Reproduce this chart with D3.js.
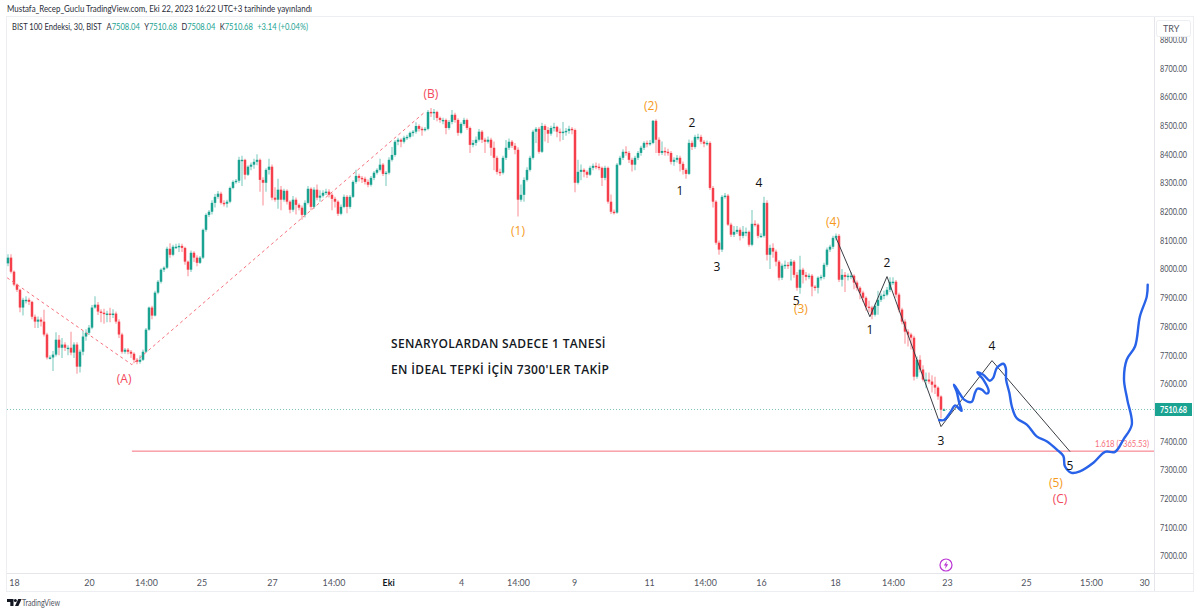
<!DOCTYPE html>
<html>
<head>
<meta charset="utf-8">
<script src="https://cdn.jsdelivr.net/npm/d3@7"></script>
<style>
  html, body { margin: 0; padding: 0; background: #fff; }
  svg { display: block; }
  .tick text { font-family: Lato, sans-serif; font-size: 8.9px; fill: #50535e; }
  .wave { font-family: "Open Sans", sans-serif; font-size: 12px; text-anchor: middle; dominant-baseline: central; }
  .note { font-family: "Open Sans", sans-serif; font-size: 12px; font-weight: 600; fill: #131722; letter-spacing: 0.35px; }
</style>
</head>
<body>
<svg width="1200" height="614"></svg>
<script>
// 30 minute bars
const opens = [
8020,8040,7991,7946,7928,7866,7893,7893,7886,7834,
7817,7824,7817,7772,7692,7692,7702,7754,7726,7737,
7726,7726,7709,7737,7660,7712,7765,7778,7796,7866,
7876,7852,7848,7845,7845,7841,7845,7817,7772,7712,
7719,7712,7705,7684,7677,7684,7712,7789,7866,7838,
7918,7956,7998,8005,8071,8050,8078,8078,8081,8074,
8026,7998,8057,8040,8022,8040,8137,8189,8200,8231,
8252,8263,8231,8228,8235,8283,8304,8308,8381,8381,
8329,8357,8364,8374,8381,8311,8301,8346,8357,8249,
8242,8277,8242,8273,8235,8207,8242,8224,8214,8189,
8231,8280,8217,8277,8249,8256,8266,8270,8259,8245,
8235,8193,8217,8252,8217,8252,8304,8325,8318,8315,
8304,8294,8318,8336,8346,8364,8332,8336,8381,8398,
8444,8451,8444,8458,8461,8475,8479,8499,8489,8485,
8489,8548,8545,8548,8527,8520,8520,8492,8513,8538,
8520,8475,8506,8520,8492,8433,8440,8451,8479,8451,
8444,8451,8423,8388,8339,8336,8388,8423,8444,8430,
8416,8242,8259,8311,8346,8388,8479,8489,8409,8499,
8485,8472,8492,8496,8479,8475,8479,8482,8489,8485,
8301,8339,8346,8339,8329,8353,8360,8357,8353,8318,
8353,8235,8200,8197,8364,8388,8409,8405,8381,8364,
8388,8405,8423,8440,8437,8440,8517,8451,8405,8412,
8409,8405,8374,8381,8388,8367,8346,8332,8440,8426,
8461,8461,8444,8437,8440,8283,8235,8092,8068,8252,
8256,8155,8120,8130,8137,8116,8130,8130,8085,8158,
8155,8116,8116,8231,8050,8074,8061,8026,7970,8012,
8015,8012,8026,7980,7935,7998,7980,7973,7977,7939,
7935,7970,7973,8015,8068,8078,8109,8116,7963,7980,
7973,7977,7977,7953,7935,7918,7900,7869,7866,7841,
7872,7893,7907,7911,7928,7956,7956,7911,7859,7817,
7782,7772,7761,7625,7684,7650,7615,7615,7608,7597,
7587,7556,7508.04];
const closes = [
8040,7991,7946,7928,7866,7893,7893,7886,7834,7817,
7824,7817,7772,7692,7692,7702,7754,7726,7737,7726,
7726,7709,7737,7660,7712,7765,7778,7796,7866,7876,
7852,7848,7845,7845,7841,7845,7817,7772,7712,7719,
7712,7705,7684,7677,7684,7712,7789,7866,7838,7918,
7956,7998,8005,8071,8050,8078,8078,8081,8074,8026,
7998,8057,8040,8022,8040,8137,8189,8200,8231,8252,
8263,8231,8228,8235,8283,8304,8308,8381,8381,8329,
8357,8364,8374,8381,8311,8301,8346,8357,8249,8242,
8277,8242,8273,8235,8207,8242,8224,8214,8189,8231,
8280,8217,8277,8249,8256,8266,8270,8259,8245,8235,
8193,8217,8252,8217,8252,8304,8325,8318,8315,8304,
8294,8318,8336,8346,8364,8332,8336,8381,8398,8444,
8451,8444,8458,8461,8475,8479,8499,8489,8485,8489,
8548,8545,8548,8527,8520,8520,8492,8513,8538,8520,
8475,8506,8520,8492,8433,8440,8451,8479,8451,8444,
8451,8423,8388,8339,8336,8388,8423,8444,8430,8416,
8242,8259,8311,8346,8388,8479,8489,8409,8499,8485,
8472,8492,8496,8479,8475,8479,8482,8489,8485,8301,
8339,8346,8339,8329,8353,8360,8357,8353,8318,8353,
8235,8200,8197,8364,8388,8409,8405,8381,8364,8388,
8405,8423,8440,8437,8440,8517,8451,8405,8412,8409,
8405,8374,8381,8388,8367,8346,8332,8440,8426,8461,
8461,8444,8437,8440,8283,8235,8092,8068,8252,8256,
8155,8120,8130,8137,8116,8130,8130,8085,8158,8155,
8116,8116,8231,8050,8074,8061,8026,7970,8012,8015,
8012,8026,7980,7935,7998,7980,7973,7977,7939,7935,
7970,7973,8015,8068,8078,8109,8116,7963,7980,7973,
7977,7977,7953,7935,7918,7900,7869,7866,7841,7872,
7893,7907,7911,7928,7956,7956,7911,7859,7817,7782,
7772,7761,7625,7684,7650,7615,7615,7608,7597,7587,
7556,7510,7510.68];
const highs = [
8052,8052,7995,7950,7932,7900,7905,7900,7890,7842,
7835,7832,7858,7778,7700,7715,7780,7770,7760,7745,
7735,7782,7745,7745,7720,7785,7790,7805,7875,7905,
7885,7860,7862,7855,7865,7860,7852,7825,7778,7725,
7725,7718,7710,7690,7700,7720,7795,7870,7872,7925,
7962,8003,8010,8078,8090,8085,8088,8090,8088,8078,
8030,8065,8062,8048,8046,8142,8195,8206,8240,8262,
8272,8270,8240,8242,8288,8310,8314,8392,8395,8385,
8362,8372,8385,8400,8386,8320,8352,8385,8365,8285,
8315,8290,8280,8278,8240,8255,8250,8230,8222,8240,
8290,8285,8285,8295,8275,8275,8280,8278,8265,8252,
8240,8225,8260,8258,8258,8310,8346,8332,8325,8322,
8312,8325,8342,8352,8385,8370,8342,8390,8426,8450,
8458,8456,8465,8468,8480,8485,8512,8505,8496,8495,
8555,8562,8558,8552,8532,8528,8525,8520,8555,8545,
8526,8512,8528,8525,8497,8450,8462,8488,8485,8458,
8462,8458,8445,8395,8350,8395,8450,8455,8450,8440,
8425,8295,8320,8355,8395,8486,8495,8495,8510,8505,
8495,8500,8510,8500,8490,8513,8492,8500,8495,8490,
8381,8365,8352,8345,8360,8368,8372,8368,8358,8360,
8358,8260,8208,8370,8395,8418,8428,8412,8388,8395,
8412,8430,8446,8448,8450,8520,8522,8460,8445,8425,
8420,8412,8390,8398,8395,8375,8352,8452,8448,8468,
8472,8468,8450,8448,8446,8290,8240,8100,8258,8265,
8262,8162,8150,8150,8145,8150,8145,8135,8206,8170,
8160,8125,8252,8240,8085,8090,8068,8032,8020,8030,
8025,8035,8032,7990,8047,8005,7990,7985,7983,7945,
7975,7980,8022,8075,8085,8116,8124,8122,8000,7990,
7985,7990,7982,7960,7940,7925,7905,7890,7872,7880,
7925,7915,7925,7938,7972,7972,7962,7918,7865,7825,
7790,7778,7768,7695,7700,7665,7640,7640,7630,7625,
7592,7560,7514];
const lows = [
8010,7985,7940,7920,7850,7838,7880,7875,7825,7795,
7795,7800,7765,7685,7685,7645,7695,7700,7690,7715,
7700,7700,7690,7635,7640,7700,7750,7770,7790,7862,
7840,7815,7810,7815,7815,7830,7810,7760,7705,7705,
7703,7690,7672,7668,7670,7680,7708,7785,7825,7835,
7912,7950,7990,8000,8040,8045,8070,8060,8060,8015,
7975,7990,8025,8010,8018,8035,8130,8182,8190,8215,
8245,8225,8218,8215,8230,8278,8298,8300,8290,8312,
8325,8345,8350,8362,8270,8222,8270,8330,8240,8235,
8210,8205,8235,8225,8195,8200,8190,8205,8172,8180,
8225,8205,8210,8240,8235,8250,8258,8250,8205,8215,
8185,8188,8212,8195,8210,8248,8298,8305,8300,8295,
8285,8288,8310,8330,8340,8325,8290,8330,8375,8392,
8432,8425,8438,8450,8455,8462,8472,8480,8465,8480,
8484,8530,8520,8515,8510,8505,8470,8486,8505,8510,
8465,8470,8500,8485,8405,8425,8430,8445,8440,8405,
8438,8395,8345,8330,8325,8330,8380,8415,8422,8400,
8183,8235,8235,8305,8340,8382,8440,8402,8405,8445,
8440,8465,8480,8460,8445,8450,8465,8472,8470,8268,
8295,8310,8320,8318,8325,8345,8348,8345,8290,8310,
8228,8192,8190,8193,8360,8380,8395,8370,8340,8345,
8380,8395,8415,8425,8430,8435,8405,8395,8398,8395,
8395,8365,8360,8372,8340,8330,8315,8328,8415,8420,
8450,8435,8425,8430,8276,8215,8085,8050,8060,8245,
8150,8112,8112,8122,8100,8108,8115,8078,8080,8148,
8108,8110,8110,8030,8000,8040,8010,7960,7962,8000,
8000,7960,7970,7925,7914,7950,7960,7965,7905,7925,
7915,7960,7965,8008,8060,8070,8100,7955,7939,7920,
7960,7965,7930,7925,7895,7885,7855,7850,7825,7835,
7841,7885,7895,7905,7920,7945,7900,7850,7808,7740,
7730,7720,7612,7618,7640,7608,7585,7600,7570,7565,
7545,7480,7505];

// axis labels (7500 sits under the price badge, so it is left out)
const priceTicks = [7000,7100,7200,7300,7400,7600,7700,7800,7900,8000,8100,8200,8300,8400,8500,8600,8700,8800];
const dateTicks = [2,27,46,64.5,88,108.5,126.7,151,170,188.7,213.7,232.3,251,275.7,295,313,339.3,361,378.7];
const dateLabels = ["18","20","14:00","25","27","14:00","Eki","4","14:00","9","11","14:00","16","18","14:00","23","25","15:00","30"];

// hand drawn stuff, all in bar / price units
const waveTexts = ["(A)","(B)","(1)","(2)","1","2","3","4","5","(3)","(4)","1","2","3","4","5","(5)","(C)"];
const waveBars = [38.7,141,170,214.3,224,228,236.3,250.3,262.7,264.3,275,287.3,293,311,328,354,349.3,350.7];
const wavePrices = [7618,8611,8134,8569,8273,8510,8008,8301,7890,7862,8165,7789,8022,7402,7733,7315,7256,7200];
const waveKinds = ["c","c","o","o","k","k","k","k","k","o","o","k","k","k","k","k","o","c"];
const dashBars = [-0.3,41.3,139];
const dashPrices = [7970,7667,8548];
const impulseBars = [276,287.3,293,311,328,354];
const impulsePrices = [8109,7834,7974,7451,7681,7364];
const blueBars = [310.4,312,314,315.7,316.8,317.9,317.1,316.2,315.3,316.8,318.7,321.2,322.3,323.1,324.6,326.2,326.9,325.1,323.1,325.1,327.3,328.4,329.6,331.8,332.6,332.7,333.8,334.6,336.2,339.6,342.9,346.2,349.6,351.8,352.3,354.5,357.3,361.8,365.7,369,371.8,374.6,373.1,372,372.9,375.7,377.3,379.6,379.9];
const bluePrices = [7474,7474,7499,7525,7516,7506,7533,7574,7597,7574,7545,7537,7568,7583,7580,7566,7574,7615,7640,7632,7611,7621,7655,7670,7655,7615,7568,7522,7481,7458,7417,7400,7371,7348,7313,7290,7295,7325,7363,7363,7406,7458,7545,7615,7684,7731,7835,7905,7946];
const fibLevel = 7365.53;
const fibStartBar = 41.3;
const lastPrice = 7510.68;

const upColor = "#1ba392";
const downColor = "#f5404c";
const waveColors = { c: "#f2495c", o: "#f59a1d", k: "#111111" };

window.onload = () => {
  const svg = d3.select("svg");
  const left = 7, right = 1154, top = 17, bottom = 573, outerRight = 1193, outerBottom = 591;

  const x = d3.scaleLinear().domain([0, 382]).range([8, 1154]);
  const y = d3.scaleLinear().domain([7000, 8700]).range([556, 68.3]);

  // frame
  svg.append("rect").attr("x", left - 0.5).attr("y", top - 0.5)
    .attr("width", outerRight - left + 1).attr("height", outerBottom - top + 1)
    .attr("fill", "#fff").attr("stroke", "#eceef2");
  svg.append("line").attr("x1", right + 0.5).attr("x2", right + 0.5).attr("y1", top).attr("y2", outerBottom).attr("stroke", "#e4e6eb");
  svg.append("line").attr("x1", left).attr("x2", outerRight).attr("y1", bottom + 0.5).attr("y2", bottom + 0.5).attr("stroke", "#e4e6eb");

  // axes
  const xAxis = d3.axisBottom(x).tickValues(dateTicks).tickSize(0).tickPadding(0)
    .tickFormat((d, i) => dateLabels[i]);
  const xAxisG = svg.append("g").attr("transform", `translate(0,${bottom + 7})`).call(xAxis);
  xAxisG.select(".domain").remove();
  xAxisG.selectAll("text").attr("dy", "0.71em")
    .style("font-weight", d => d === 126.7 ? 700 : 400)
    .style("fill", d => d === 126.7 ? "#131722" : "#50535e");

  const yAxis = d3.axisRight(y).tickValues(priceTicks).tickSize(0).tickPadding(0)
    .tickFormat(d3.format(".2f"));
  const yAxisG = svg.append("g").attr("transform", `translate(${right + 6},0)`).call(yAxis);
  yAxisG.select(".domain").remove();
  yAxisG.selectAll("text").attr("dy", "0.32em")
    .attr("textLength", 27).attr("lengthAdjust", "spacingAndGlyphs");

  // last price dotted line
  svg.append("line").attr("x1", left).attr("x2", right)
    .attr("y1", y(lastPrice)).attr("y2", y(lastPrice))
    .attr("stroke", "#7fc4bb").attr("stroke-width", 1).attr("stroke-dasharray", "1 2");

  // wicks and bodies
  const bars = closes.map((c, i) => ({ i, o: opens[i], h: highs[i], l: lows[i], c }));
  const col = d => d.c >= d.o ? upColor : downColor;

  svg.append("g").selectAll("line").data(bars).enter().append("line")
    .attr("x1", d => x(d.i)).attr("x2", d => x(d.i))
    .attr("y1", d => y(d.h)).attr("y2", d => y(d.l))
    .attr("stroke", col).attr("stroke-opacity", 0.55).attr("stroke-width", 1.1);

  svg.append("g").selectAll("rect").data(bars).enter().append("rect")
    .attr("x", d => x(d.i) - 1.25)
    .attr("width", 2.5)
    .attr("y", d => Math.min(y(d.o), y(d.c)))
    .attr("height", d => Math.max(1.4, Math.abs(y(d.o) - y(d.c))))
    .attr("fill", col);

  // fib level
  svg.append("line").attr("x1", x(fibStartBar)).attr("x2", right)
    .attr("y1", y(fibLevel)).attr("y2", y(fibLevel))
    .attr("stroke", "#f66f7c").attr("stroke-width", 1);
  svg.append("text").attr("x", 1095).attr("y", y(fibLevel) - 8)
    .attr("dominant-baseline", "central")
    .attr("textLength", 54).attr("lengthAdjust", "spacingAndGlyphs")
    .style("font-family", "Lato, sans-serif").style("font-size", "9px").attr("fill", "#f66f7c")
    .text("1.618 (" + fibLevel.toFixed(2) + ")");

  // drawn lines
  const pathLine = d3.line().x(d => x(d[0])).y(d => y(d[1]));
  svg.append("path").attr("d", pathLine(d3.zip(dashBars, dashPrices)))
    .attr("fill", "none").attr("stroke", "#f5707c").attr("stroke-width", 1).attr("stroke-dasharray", "3 3");
  svg.append("path").attr("d", pathLine(d3.zip(impulseBars, impulsePrices)))
    .attr("fill", "none").attr("stroke", "#3a3d45").attr("stroke-width", 1);
  svg.append("path")
    .attr("d", d3.line().x(d => x(d[0])).y(d => y(d[1])).curve(d3.curveCatmullRom.alpha(0.5))(d3.zip(blueBars, bluePrices)))
    .attr("fill", "none").attr("stroke", "#2862e8").attr("stroke-width", 2.4).attr("stroke-linecap", "round");

  // wave counts
  svg.append("g").selectAll("text").data(waveTexts).enter().append("text")
    .attr("class", "wave")
    .attr("x", (d, i) => x(waveBars[i]))
    .attr("y", (d, i) => y(wavePrices[i]))
    .attr("fill", (d, i) => waveColors[waveKinds[i]])
    .text(d => d);

  // comment on the chart
  svg.append("text").attr("class", "note").attr("x", 391).attr("y", 348).text("SENARYOLARDAN SADECE 1 TANESİ");
  svg.append("text").attr("class", "note").attr("x", 391).attr("y", 374).text("EN İDEAL TEPKİ İÇİN 7300'LER TAKİP");

  // header + legend
  svg.append("text").attr("x", 7).attr("y", 12)
    .attr("textLength", 305).attr("lengthAdjust", "spacingAndGlyphs")
    .style("font-family", "Lato, sans-serif").style("font-size", "8.8px").attr("fill", "#2a2e39")
    .text("Mustafa_Recep_Guclu TradingView.com, Eki 22, 2023 16:22 UTC+3 tarihinde yayınlandı");

  const legend = svg.append("text").attr("x", 12).attr("y", 30)
    .attr("textLength", 296).attr("lengthAdjust", "spacingAndGlyphs")
    .style("font-family", "Lato, sans-serif").style("font-size", "8.7px").attr("fill", "#2a2e39");
  legend.append("tspan").text("BIST 100 Endeksi, 30, BIST");
  [["A", "7508.04"], ["Y", "7510.68"], ["D", "7508.04"], ["K", "7510.68"]].forEach((p, i) => {
    legend.append("tspan").attr("dx", i ? 5 : 6).text(p[0]);
    legend.append("tspan").attr("fill", upColor).text(p[1]);
  });
  legend.append("tspan").attr("dx", 5).attr("fill", upColor).text("+3.14 (+0.04%)");

  // TRY box, price badge
  svg.append("rect").attr("x", 1156.5).attr("y", 20.5).attr("width", 34).attr("height", 16).attr("rx", 2)
    .attr("fill", "#fff").attr("stroke", "#eceef2");
  svg.append("text").attr("x", 1163).attr("y", 32)
    .style("font-family", "Lato, sans-serif").style("font-size", "9px").attr("fill", "#50535e").text("TRY");
  svg.append("rect").attr("x", right + 1).attr("y", y(lastPrice) - 6.5).attr("width", 37).attr("height", 13).attr("fill", upColor);
  svg.append("text").attr("x", right + 6).attr("y", y(lastPrice))
    .attr("dominant-baseline", "central")
    .attr("textLength", 27).attr("lengthAdjust", "spacingAndGlyphs")
    .style("font-family", "Lato, sans-serif").style("font-size", "9px").style("font-weight", 700)
    .attr("fill", "#fff").text(lastPrice.toFixed(2));

  // split marker
  const marker = svg.append("g").attr("transform", "translate(946,565)");
  marker.append("circle").attr("r", 6).attr("fill", "#fff").attr("stroke", "#ba34d4").attr("stroke-width", 1.2);
  marker.append("path").attr("d", "M1,-4 L-2.2,0.6 L-0.2,0.6 L-1,4 L2.2,-0.8 L0.2,-0.8 Z").attr("fill", "#ba34d4");

  // footer logo
  const logo = svg.append("g").attr("transform", "translate(7,599)").attr("fill", "#131722");
  logo.append("path").attr("d", "M0,0 H6.5 V7 H3.3 V3 H0 Z");
  logo.append("circle").attr("cx", 8.4).attr("cy", 1.5).attr("r", 1.5);
  logo.append("path").attr("d", "M8,7 L11.2,0 H14.6 L11.4,7 Z");
  svg.append("text").attr("x", 22).attr("y", 606)
    .attr("textLength", 38).attr("lengthAdjust", "spacingAndGlyphs")
    .style("font-family", "Lato, sans-serif").style("font-size", "9.5px").attr("fill", "#50535e").text("TradingView");
};
</script>
</body>
</html>
